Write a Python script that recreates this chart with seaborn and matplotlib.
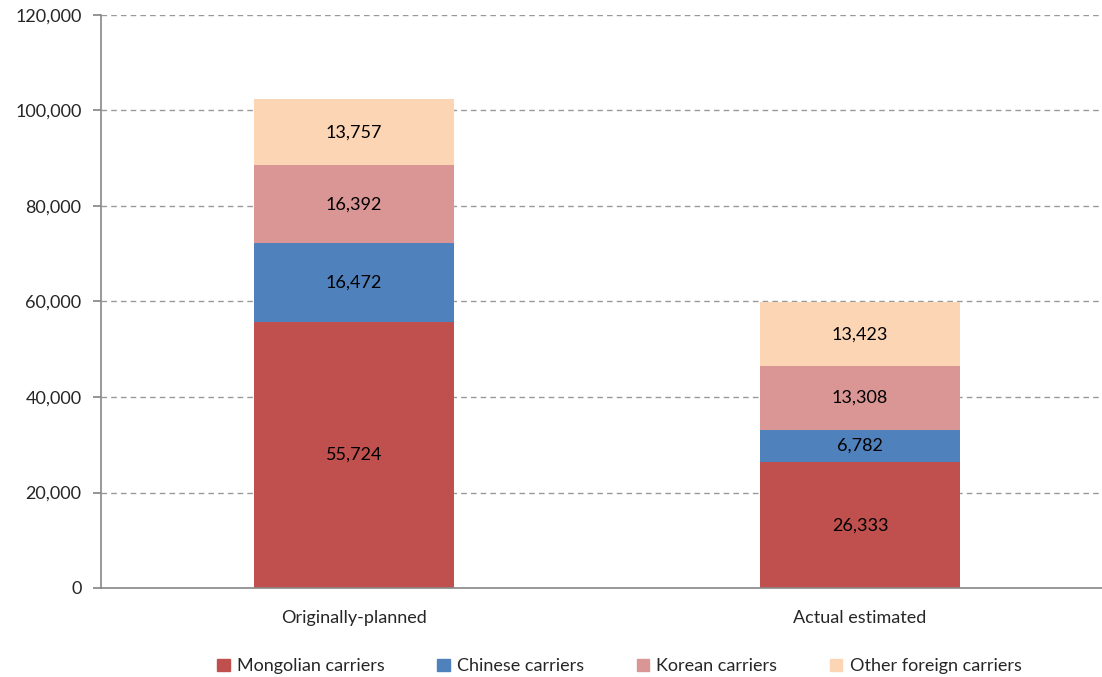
import matplotlib.pyplot as plt
import seaborn as sns
import pandas as pd
import numpy as np

# Datos
scenarios = ['Originally-planned', 'Actual estimated']
carriers = ['Mongolian carriers', 'Chinese carriers', 'Korean carriers', 'Other foreign carriers']
mongolian = [55724, 26333]
chinese = [16472, 6782]
korean = [16392, 13308]
other = [13757, 13423]
colors = ['#C0504D', '#4F81BD', '#D99694', '#FCD5B5']

sns.set_theme(style='white')
plt.rcParams['font.family'] = ['Lato', 'DejaVu Sans']
plt.rcParams['font.size'] = 13

fig = plt.figure(figsize=(11.02, 6.77), dpi=100)
ax = fig.add_axes([101 / 1102, 1 - 588 / 677, 1012 / 1102, 573 / 677])

series = [mongolian, chinese, korean, other]
bottom = np.zeros(len(scenarios))
for name, vals, col in zip(carriers, series, colors):
    df = pd.DataFrame({'scenario': scenarios, 'value': vals})
    sns.barplot(data=df, x='scenario', y='value', color=col, width=0.397,
                bottom=bottom, ax=ax, label=name, saturation=1, errorbar=None,
                linewidth=0)
    bars = ax.containers[-1]
    ax.bar_label(bars, labels=[f'{v:,}' for v in vals], label_type='center',
                 fontsize=13, color='black')
    bottom += np.array(vals)

# Ejes
ax.set_xlim(-0.5, 1.5)
ax.set_ylim(0, 120000)
ax.set_yticks(np.arange(0, 120001, 20000))
ax.set_yticklabels([f'{v:,}' for v in range(0, 120001, 20000)], fontsize=13)
ax.set_xticks([0, 1])
ax.set_xticklabels(scenarios, fontsize=13)
ax.set_xticks([-0.5, 0.5, 1.5], minor=True)
ax.tick_params(axis='x', which='major', length=0, pad=16)
ax.tick_params(axis='x', which='minor', length=6, color='#888888', direction='out')
ax.tick_params(axis='y', length=6, color='#888888', direction='out', pad=8, left=True)
ax.set_xlabel('')
ax.set_ylabel('')
ax.grid(axis='y', linestyle=(0, (4, 3)), color='#999999', linewidth=1)
ax.set_axisbelow(True)
for s in ['top', 'right']:
    ax.spines[s].set_visible(False)
for s in ['left', 'bottom']:
    ax.spines[s].set_color('#888888')
    ax.spines[s].set_linewidth(1.2)

# Leyenda
if ax.legend_:
    ax.legend_.remove()
handles = [plt.Rectangle((0, 0), 1, 1, color=c) for c in colors]
fig.legend(handles, carriers, loc='lower center', ncol=4, frameon=False,
           fontsize=13, handlelength=0.7, handleheight=0.7, columnspacing=2.9,
           handletextpad=0.4, bbox_to_anchor=(0.562, -0.02))

fig.savefig('out.png', dpi=100)
